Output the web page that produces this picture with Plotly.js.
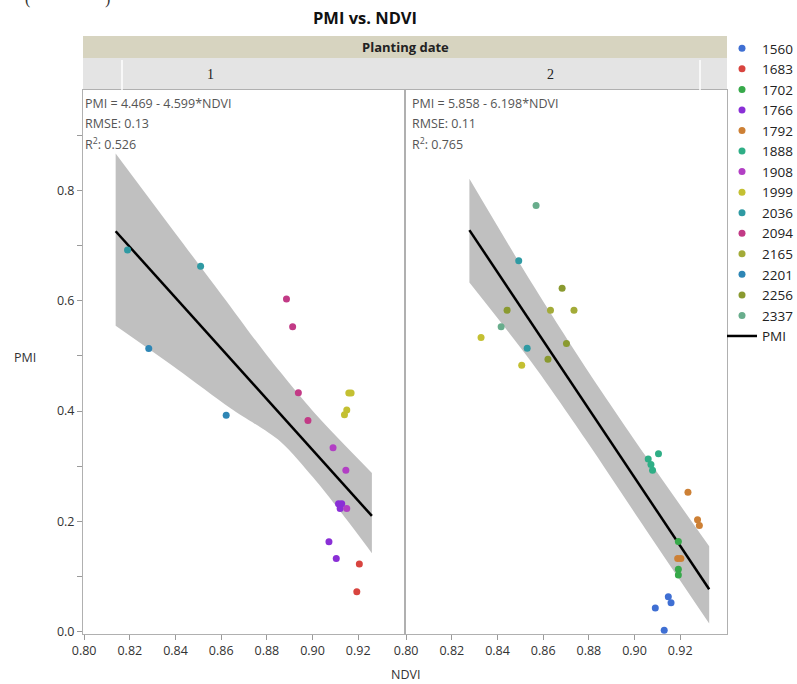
<!DOCTYPE html>
<html>
<head>
<meta charset="utf-8">
<script src="https://cdn.plot.ly/plotly-3.0.1.min.js"></script>
<style>html,body{margin:0;padding:0;background:#fff;}#chart{width:797px;height:684px;}</style>
</head>
<body>
<div id="chart"></div>
<script>
// ---------------- data ----------------
const genotypes = ['1560','1683','1702','1766','1792','1888','1908','1999','2036','2094','2165','2201','2256','2337'];

// Planting date 1
const p1_ndvi = [0.819, 0.851, 0.8283, 0.8622, 0.8886, 0.8913, 0.8938, 0.898, 0.9159, 0.9169, 0.915, 0.914,
                 0.909, 0.9146, 0.9114, 0.9128, 0.9121, 0.915, 0.9072, 0.9104, 0.9205, 0.9194];
const p1_pmi  = [0.692, 0.6625, 0.5135, 0.3927, 0.603, 0.553, 0.4334, 0.383, 0.4327, 0.4327, 0.402, 0.3935,
                 0.3334, 0.2928, 0.232, 0.232, 0.2236, 0.2236, 0.163, 0.1327, 0.123, 0.0727];
const p1_geno = ['2036','2036','2201','2201','2094','2094','2094','2094','1999','1999','1999','1999',
                 '1908','1908','1766','1766','1766','1908','1766','1766','1683','1683'];

// Planting date 2
const p2_ndvi = [0.8569, 0.8493, 0.8416, 0.853, 0.8683, 0.8442, 0.8632, 0.8735, 0.8702, 0.8621, 0.8328, 0.8506,
                 0.906, 0.9072, 0.9079, 0.9105, 0.9234, 0.9276, 0.9284, 0.9189, 0.9203,
                 0.9192, 0.9192, 0.9192, 0.9148, 0.916, 0.9091, 0.913];
const p2_pmi  = [0.7727, 0.6727, 0.5527, 0.514, 0.6225, 0.583, 0.583, 0.583, 0.5225, 0.494, 0.5334, 0.483,
                 0.3134, 0.303, 0.2928, 0.3225, 0.2527, 0.203, 0.1927, 0.1327, 0.1327,
                 0.1636, 0.1134, 0.103, 0.0636, 0.0527, 0.043, 0.003];
const p2_geno = ['2337','2036','2337','2036','2256','2256','2165','2165','2256','2256','1999','1999',
                 '1888','1888','1888','1888','1792','1792','1792','1792','1792',
                 '1702','1702','1702','1560','1560','1560','1560'];

// Fit lines
const fit1_x = [0.8138, 0.926];
const fit1_y = [0.726, 0.210];
const fit2_x = [0.8277, 0.9327];
const fit2_y = [0.728, 0.077];

// Confidence bands
const band1_hi_x = [0.8138, 0.84, 0.8611, 0.8808, 0.9019, 0.926];
const band1_hi_y = [0.867, 0.722, 0.606, 0.497, 0.392, 0.288];
const band1_lo_x = [0.8138, 0.8408, 0.8641, 0.8859, 0.9004, 0.915, 0.926];
const band1_lo_y = [0.5545, 0.4758, 0.405, 0.345, 0.279, 0.203, 0.1425];

const band2_hi_x = [0.8277, 0.855, 0.88, 0.905, 0.9327];
const band2_hi_y = [0.821, 0.632, 0.470, 0.318, 0.155];
const band2_lo_x = [0.8277, 0.855, 0.88, 0.905, 0.9327];
const band2_lo_y = [0.633, 0.488, 0.340, 0.185, 0.015];

const fitText1 = ['PMI = 4.469 - 4.599*NDVI', 'RMSE: 0.13', 'R<sup>2</sup>: 0.526'];
const fitText2 = ['PMI = 5.858 - 6.198*NDVI', 'RMSE: 0.11', 'R<sup>2</sup>: 0.765'];

const xTicks = [0.80, 0.82, 0.84, 0.86, 0.88, 0.90, 0.92];
const yTicks = [0.0, 0.2, 0.4, 0.6, 0.8];
const panelLabels = ['1', '2'];

// ---------------- style ----------------
const colorOf = {
  '1560':'#3f6fd3', '1683':'#d8443f', '1702':'#37a94a', '1766':'#8a2fd6', '1792':'#cd8035',
  '1888':'#2fae86', '1908':'#b23fc4', '1999':'#c4c032', '2036':'#2f9aa3', '2094':'#c23a86',
  '2165':'#a3ab38', '2201':'#2e86b5', '2256':'#8a9a30', '2337':'#68ad8c'
};
const FONT = 'Open Sans, Noto Sans, sans-serif';

const traces = [];
function band(hx, hy, lx, ly, xa, ya) {
  return [
    {x: lx, y: ly, xaxis: xa, yaxis: ya, mode: 'lines', line: {width: 0, shape: 'spline', smoothing: 0.8},
     showlegend: false, hoverinfo: 'skip'},
    {x: hx, y: hy, xaxis: xa, yaxis: ya, mode: 'lines', fill: 'tonexty', fillcolor: '#c0c0c0',
     line: {width: 0, shape: 'spline', smoothing: 0.8}, showlegend: false, hoverinfo: 'skip'}
  ];
}
band(band1_hi_x, band1_hi_y, band1_lo_x, band1_lo_y, 'x', 'y').forEach(t => traces.push(t));
band(band2_hi_x, band2_hi_y, band2_lo_x, band2_lo_y, 'x2', 'y2').forEach(t => traces.push(t));

traces.push({x: fit1_x, y: fit1_y, xaxis: 'x', yaxis: 'y', mode: 'lines', name: 'PMI',
  line: {color: '#000', width: 2.5}, legendrank: 1000, showlegend: true});
traces.push({x: fit2_x, y: fit2_y, xaxis: 'x2', yaxis: 'y2', mode: 'lines', name: 'PMI',
  line: {color: '#000', width: 2.5}, showlegend: false});

const shown = {};
const panels = [
  {nd: p1_ndvi, pm: p1_pmi, g: p1_geno, xa: 'x', ya: 'y'},
  {nd: p2_ndvi, pm: p2_pmi, g: p2_geno, xa: 'x2', ya: 'y2'}
];
genotypes.forEach((gn, gi) => {
  panels.forEach(p => {
    const xs = [], ys = [];
    p.g.forEach((v, i) => { if (v === gn) { xs.push(p.nd[i]); ys.push(p.pm[i]); } });
    if (!xs.length) return;
    traces.push({
      x: xs, y: ys, xaxis: p.xa, yaxis: p.ya, mode: 'markers', type: 'scatter',
      name: gn, legendgroup: gn, legendrank: gi + 1,
      showlegend: !shown[gn],
      marker: {color: colorOf[gn], size: 7}
    });
    shown[gn] = true;
  });
});

// ---------------- layout ----------------
const L = 83, R = 70, T = 90, B = 50, W = 797, H = 684;
const pw = W - L - R, ph = H - T - B;
const px2x = px => (px - L) / pw;
const py2y = py => (H - B - py) / ph;

const axisX = {
  range: [0.7995, 0.9405], tickmode: 'array', tickvals: xTicks, tickformat: '.2f',
  ticks: 'outside', ticklen: 5, tickcolor: '#9a9a9a', showline: true, linecolor: '#b0b0b0',
  mirror: true, showgrid: false, zeroline: false,
  tickfont: {family: FONT, size: 12.5, color: '#333'}
};

const annotations = [];
[fitText1, fitText2].forEach((lines, k) => {
  lines.forEach((t, j) => {
    annotations.push({
      text: t, xref: 'paper', yref: 'paper', x: px2x(k === 0 ? 83 : 410), y: py2y(103 + j * 20.5),
      xanchor: 'left', yanchor: 'middle', showarrow: false,
      font: {family: FONT, size: 12.5, color: '#555'}
    });
  });
});
annotations.push({text: '<b>Planting date</b>', xref: 'paper', yref: 'paper', x: 0.5, y: py2y(47),
  xanchor: 'center', yanchor: 'middle', showarrow: false, font: {family: FONT, size: 13, color: '#222'}});
annotations.push({text: panelLabels[0], xref: 'paper', yref: 'paper', x: px2x(210), y: py2y(74),
  xanchor: 'center', yanchor: 'middle', showarrow: false, font: {family: 'Liberation Serif, serif', size: 14, color: '#222'}});
annotations.push({text: panelLabels[1], xref: 'paper', yref: 'paper', x: px2x(550), y: py2y(74),
  xanchor: 'center', yanchor: 'middle', showarrow: false, font: {family: 'Liberation Serif, serif', size: 14, color: '#222'}});
annotations.push({text: 'NDVI', xref: 'paper', yref: 'paper', x: px2x(405), y: py2y(674),
  xanchor: 'center', yanchor: 'middle', showarrow: false, font: {family: FONT, size: 12.5, color: '#333'}});
annotations.push({text: 'PMI', xref: 'paper', yref: 'paper', x: px2x(25), y: py2y(357),
  xanchor: 'center', yanchor: 'middle', showarrow: false, font: {family: FONT, size: 12.5, color: '#333'}});
// cropped caption brackets at the very top edge
annotations.push({text: '(', xref: 'paper', yref: 'paper', x: px2x(27), y: py2y(-1),
  xanchor: 'center', yanchor: 'middle', showarrow: false, font: {family: 'Liberation Serif, serif', size: 16, color: '#333'}});
annotations.push({text: ')', xref: 'paper', yref: 'paper', x: px2x(107), y: py2y(-1),
  xanchor: 'center', yanchor: 'middle', showarrow: false, font: {family: 'Liberation Serif, serif', size: 16, color: '#333'}});

const shapes = [
  {type: 'rect', xref: 'paper', yref: 'paper', x0: 0, x1: 1, y0: py2y(58), y1: py2y(36),
   fillcolor: '#d7d4c0', line: {width: 0}, layer: 'below'},
  {type: 'rect', xref: 'paper', yref: 'paper', x0: 0, x1: 1, y0: py2y(90), y1: py2y(58),
   fillcolor: '#e4e4e4', line: {width: 0}, layer: 'below'},
  {type: 'line', xref: 'paper', yref: 'paper', x0: px2x(122), x1: px2x(122), y0: py2y(90), y1: py2y(60),
   line: {color: '#ffffff', width: 1.5}},
  {type: 'line', xref: 'paper', yref: 'paper', x0: px2x(700), x1: px2x(700), y0: py2y(90), y1: py2y(60),
   line: {color: '#ffffff', width: 1.5}}
];

const layout = {
  width: W, height: H,
  margin: {l: L, r: R, t: T, b: B, autoexpand: false},
  paper_bgcolor: '#fff', plot_bgcolor: '#fff',
  title: {text: '<b>PMI vs. NDVI</b>', x: 365 / W, xref: 'container', xanchor: 'center',
          y: 1 - 18 / H, yref: 'container', yanchor: 'middle',
          font: {family: FONT, size: 16.5, color: '#111'}},
  xaxis: Object.assign({}, axisX, {domain: [0, 0.5], anchor: 'y'}),
  xaxis2: Object.assign({}, axisX, {domain: [0.5, 1], anchor: 'y2'}),
  yaxis: {
    range: [-0.004, 0.982], tickmode: 'array', tickvals: yTicks, tickformat: '.1f',
    ticks: 'outside', ticklen: 5, tickcolor: '#9a9a9a', showline: true, linecolor: '#b0b0b0',
    mirror: true, showgrid: false, zeroline: false, anchor: 'x',
    minor: {dtick: 0.1, tick0: 0, ticks: 'outside', ticklen: 5, tickcolor: '#9a9a9a', showgrid: false},
    tickfont: {family: FONT, size: 12.5, color: '#333'}
  },
  yaxis2: {
    range: [-0.004, 0.982], matches: 'y', anchor: 'x2', showticklabels: false, ticks: '',
    showline: true, linecolor: '#b0b0b0', mirror: true, showgrid: false, zeroline: false
  },
  showlegend: true,
  legend: {x: px2x(722), xanchor: 'left', y: py2y(33), yanchor: 'top',
           bgcolor: 'rgba(0,0,0,0)', tracegroupgap: 0, traceorder: 'normal',
           font: {family: FONT, size: 13.5, color: '#222'}},
  annotations: annotations,
  shapes: shapes
};

Plotly.newPlot('chart', traces, layout, {displayModeBar: false, staticPlot: true});
</script>
</body>
</html>
